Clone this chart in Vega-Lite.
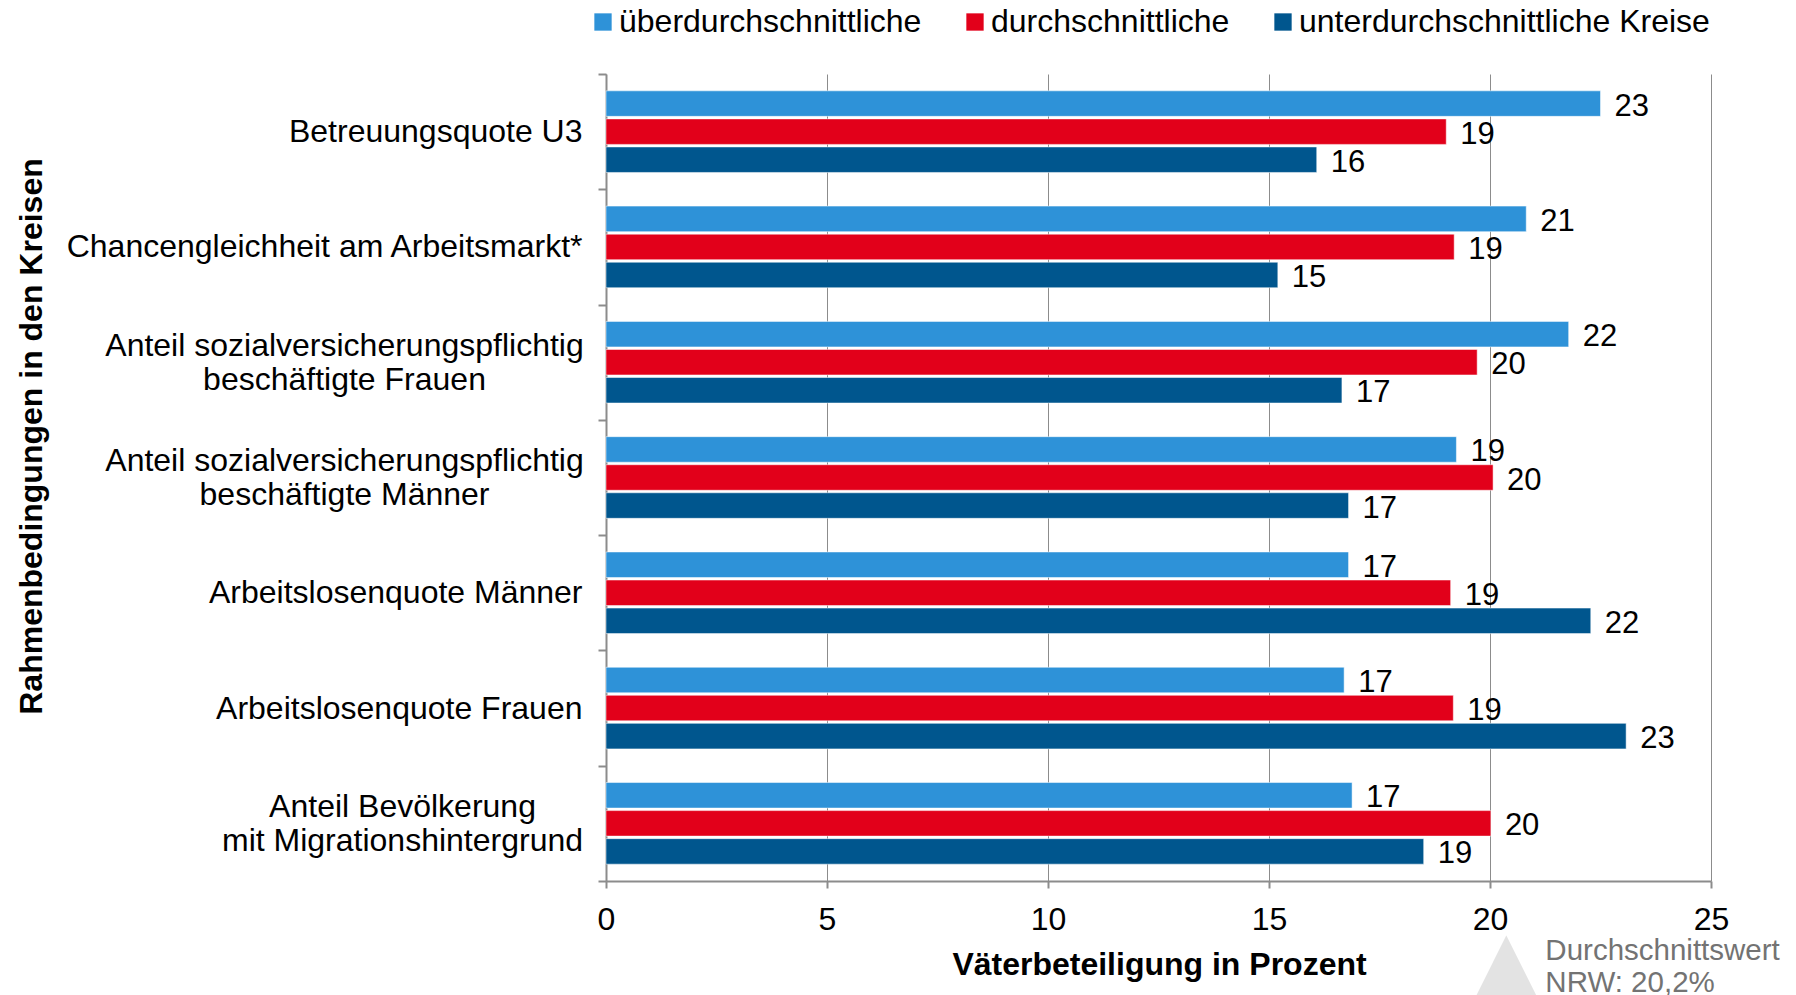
{
  "$schema": "https://vega.github.io/schema/vega-lite/v6.json",
  "autosize": "none",
  "width": 1105,
  "height": 807,
  "padding": {"left": 606, "top": 74, "right": 85, "bottom": 114},
  "background": "#ffffff",
  "config": {
    "view": {"stroke": null},
    "font": "Liberation Sans",
    "text": {"font": "Liberation Sans"}
  },
  "data": {
    "values": [
      {"cat": "Betreuungsquote U3", "series": "überdurchschnittliche", "v": 22.5},
      {"cat": "Betreuungsquote U3", "series": "durchschnittliche", "v": 19.01},
      {"cat": "Betreuungsquote U3", "series": "unterdurchschnittliche Kreise", "v": 16.08},
      {"cat": "Chancengleichheit am Arbeitsmarkt*", "series": "überdurchschnittliche", "v": 20.82},
      {"cat": "Chancengleichheit am Arbeitsmarkt*", "series": "durchschnittliche", "v": 19.19},
      {"cat": "Chancengleichheit am Arbeitsmarkt*", "series": "unterdurchschnittliche Kreise", "v": 15.2},
      {"cat": "Anteil sozialversicherungspflichtig|beschäftigte Frauen", "series": "überdurchschnittliche", "v": 21.78},
      {"cat": "Anteil sozialversicherungspflichtig|beschäftigte Frauen", "series": "durchschnittliche", "v": 19.71},
      {"cat": "Anteil sozialversicherungspflichtig|beschäftigte Frauen", "series": "unterdurchschnittliche Kreise", "v": 16.65},
      {"cat": "Anteil sozialversicherungspflichtig|beschäftigte Männer", "series": "überdurchschnittliche", "v": 19.24},
      {"cat": "Anteil sozialversicherungspflichtig|beschäftigte Männer", "series": "durchschnittliche", "v": 20.07},
      {"cat": "Anteil sozialversicherungspflichtig|beschäftigte Männer", "series": "unterdurchschnittliche Kreise", "v": 16.8},
      {"cat": "Arbeitslosenquote Männer", "series": "überdurchschnittliche", "v": 16.8},
      {"cat": "Arbeitslosenquote Männer", "series": "durchschnittliche", "v": 19.11},
      {"cat": "Arbeitslosenquote Männer", "series": "unterdurchschnittliche Kreise", "v": 22.28},
      {"cat": "Arbeitslosenquote Frauen", "series": "überdurchschnittliche", "v": 16.7},
      {"cat": "Arbeitslosenquote Frauen", "series": "durchschnittliche", "v": 19.17},
      {"cat": "Arbeitslosenquote Frauen", "series": "unterdurchschnittliche Kreise", "v": 23.08},
      {"cat": "Anteil Bevölkerung|mit Migrationshintergrund", "series": "überdurchschnittliche", "v": 16.88},
      {"cat": "Anteil Bevölkerung|mit Migrationshintergrund", "series": "durchschnittliche", "v": 20.02},
      {"cat": "Anteil Bevölkerung|mit Migrationshintergrund", "series": "unterdurchschnittliche Kreise", "v": 18.5}
    ]
  },
  "encoding": {
    "y": {
      "field": "cat",
      "type": "nominal",
      "sort": null,
      "scale": {"paddingInner": 0, "paddingOuter": 0},
      "axis": {
        "title": "Rahmenbedingungen in den Kreisen",
        "titleFontSize": 32,
        "titleFontWeight": "bold",
        "titleColor": "#000000",
        "titleAngle": -90,
        "titleAlign": "center",
        "titleBaseline": "alphabetic",
        "titleX": -565,
        "titleY": 362,
        "grid": false,
        "tickBand": "extent",
        "domainColor": "#8c8c8c",
        "domainWidth": 2,
        "tickColor": "#8c8c8c",
        "tickWidth": 2,
        "tickSize": 8,
        "labelExpr": "split(datum.label, '|')",
        "labelFontSize": 32,
        "labelColor": "#000000",
        "labelLineHeight": 34,
        "labelLimit": 0,
        "labelAlign": {"condition": {"test": "indexof(datum.label, '|') >= 0", "value": "center"}, "value": "right"},
        "labelOffset": {"condition": {"test": "indexof(datum.label, '|') >= 0", "value": -17}, "value": 0},
        "labelPadding": {"condition": [
          {"test": "indexof(datum.label, 'Migration') >= 0", "value": 196},
          {"test": "indexof(datum.label, '|') >= 0", "value": 254}
        ], "value": 16}
      }
    },
    "yOffset": {
      "field": "series",
      "type": "nominal",
      "sort": ["überdurchschnittliche", "durchschnittliche", "unterdurchschnittliche Kreise"],
      "scale": {"paddingInner": 0.09, "paddingOuter": 0.6}
    },
    "x": {
      "field": "v",
      "type": "quantitative",
      "scale": {"domain": [0, 25], "nice": false},
      "axis": {
        "title": "Väterbeteiligung in Prozent",
        "titleFontSize": 32,
        "titleFontWeight": "bold",
        "titleColor": "#000000",
        "titleAlign": "center",
        "titleBaseline": "alphabetic",
        "titleX": 553,
        "titleY": 93,
        "values": [0, 5, 10, 15, 20, 25, 20.2, 20.2001],
        "labelExpr": "datum.value == 20.2 ? '▲' : (datum.value > 20.19 && datum.value < 20.21) ? ['', 'Durchschnittswert', 'NRW: 20,2%'] : datum.label",
        "labelOverlap": false,
        "labelFlush": false,
        "labelBound": false,
        "labelLimit": 0,
        "labelLineHeight": 32,
        "labelBaseline": "top",
        "labelPadding": {"condition": {"test": "datum.value == 20.2", "value": 33}, "value": 16},
        "labelFontSize": {"condition": [
          {"test": "datum.value == 20.2", "value": 88},
          {"test": "datum.value > 20.19 && datum.value < 20.21", "value": 29.5}
        ], "value": 32},
        "labelFont": {"condition": {"test": "datum.value == 20.2", "value": "DejaVu Sans"}, "value": "Liberation Sans"},
        "labelColor": {"condition": [
          {"test": "datum.value == 20.2", "value": "#e3e3e3"},
          {"test": "datum.value > 20.19 && datum.value < 20.21", "value": "#737373"}
        ], "value": "#000000"},
        "labelAlign": {"condition": {"test": "datum.value > 20.19 && datum.value < 20.21 && datum.value != 20.2", "value": "left"}, "value": "center"},
        "labelOffset": {"condition": [
          {"test": "datum.value == 20.2", "value": 7},
          {"test": "datum.value > 20.19 && datum.value < 20.21", "value": 46}
        ], "value": 0},
        "grid": true,
        "gridColor": "#8c8c8c",
        "gridWidth": 1,
        "gridOpacity": {"condition": {"test": "datum.value % 5 != 0", "value": 0}, "value": 1},
        "tickOpacity": {"condition": {"test": "datum.value % 5 != 0", "value": 0}, "value": 1},
        "tickColor": "#8c8c8c",
        "tickWidth": 2,
        "tickSize": 7,
        "domainColor": "#8c8c8c",
        "domainWidth": 2
      }
    }
  },
  "layer": [
    {
      "mark": {"type": "bar", "stroke": "#ffffff", "strokeWidth": 1, "strokeOpacity": 0.5},
      "encoding": {
        "color": {
          "field": "series",
          "type": "nominal",
          "sort": ["überdurchschnittliche", "durchschnittliche", "unterdurchschnittliche Kreise"],
          "scale": {
            "domain": ["überdurchschnittliche", "durchschnittliche", "unterdurchschnittliche Kreise"],
            "range": ["#2e92d8", "#e2001a", "#00568e"]
          },
          "legend": {
            "title": null,
            "orient": "none",
            "direction": "horizontal",
            "legendX": -19,
            "legendY": -68,
            "symbolType": "square",
            "symbolSize": 300,
            "symbolStrokeWidth": 0,
            "labelFontSize": 32,
            "labelColor": "#000000",
            "labelLimit": 0,
            "labelOffset": 0,
            "columnPadding": 37
          }
        }
      }
    },
    {
      "mark": {"type": "text", "align": "left", "baseline": "middle", "dx": 14, "dy": 3, "fontSize": 31, "color": "#000000"},
      "encoding": {
        "text": {"field": "v", "type": "quantitative", "format": ".0f"}
      }
    }
  ]
}
